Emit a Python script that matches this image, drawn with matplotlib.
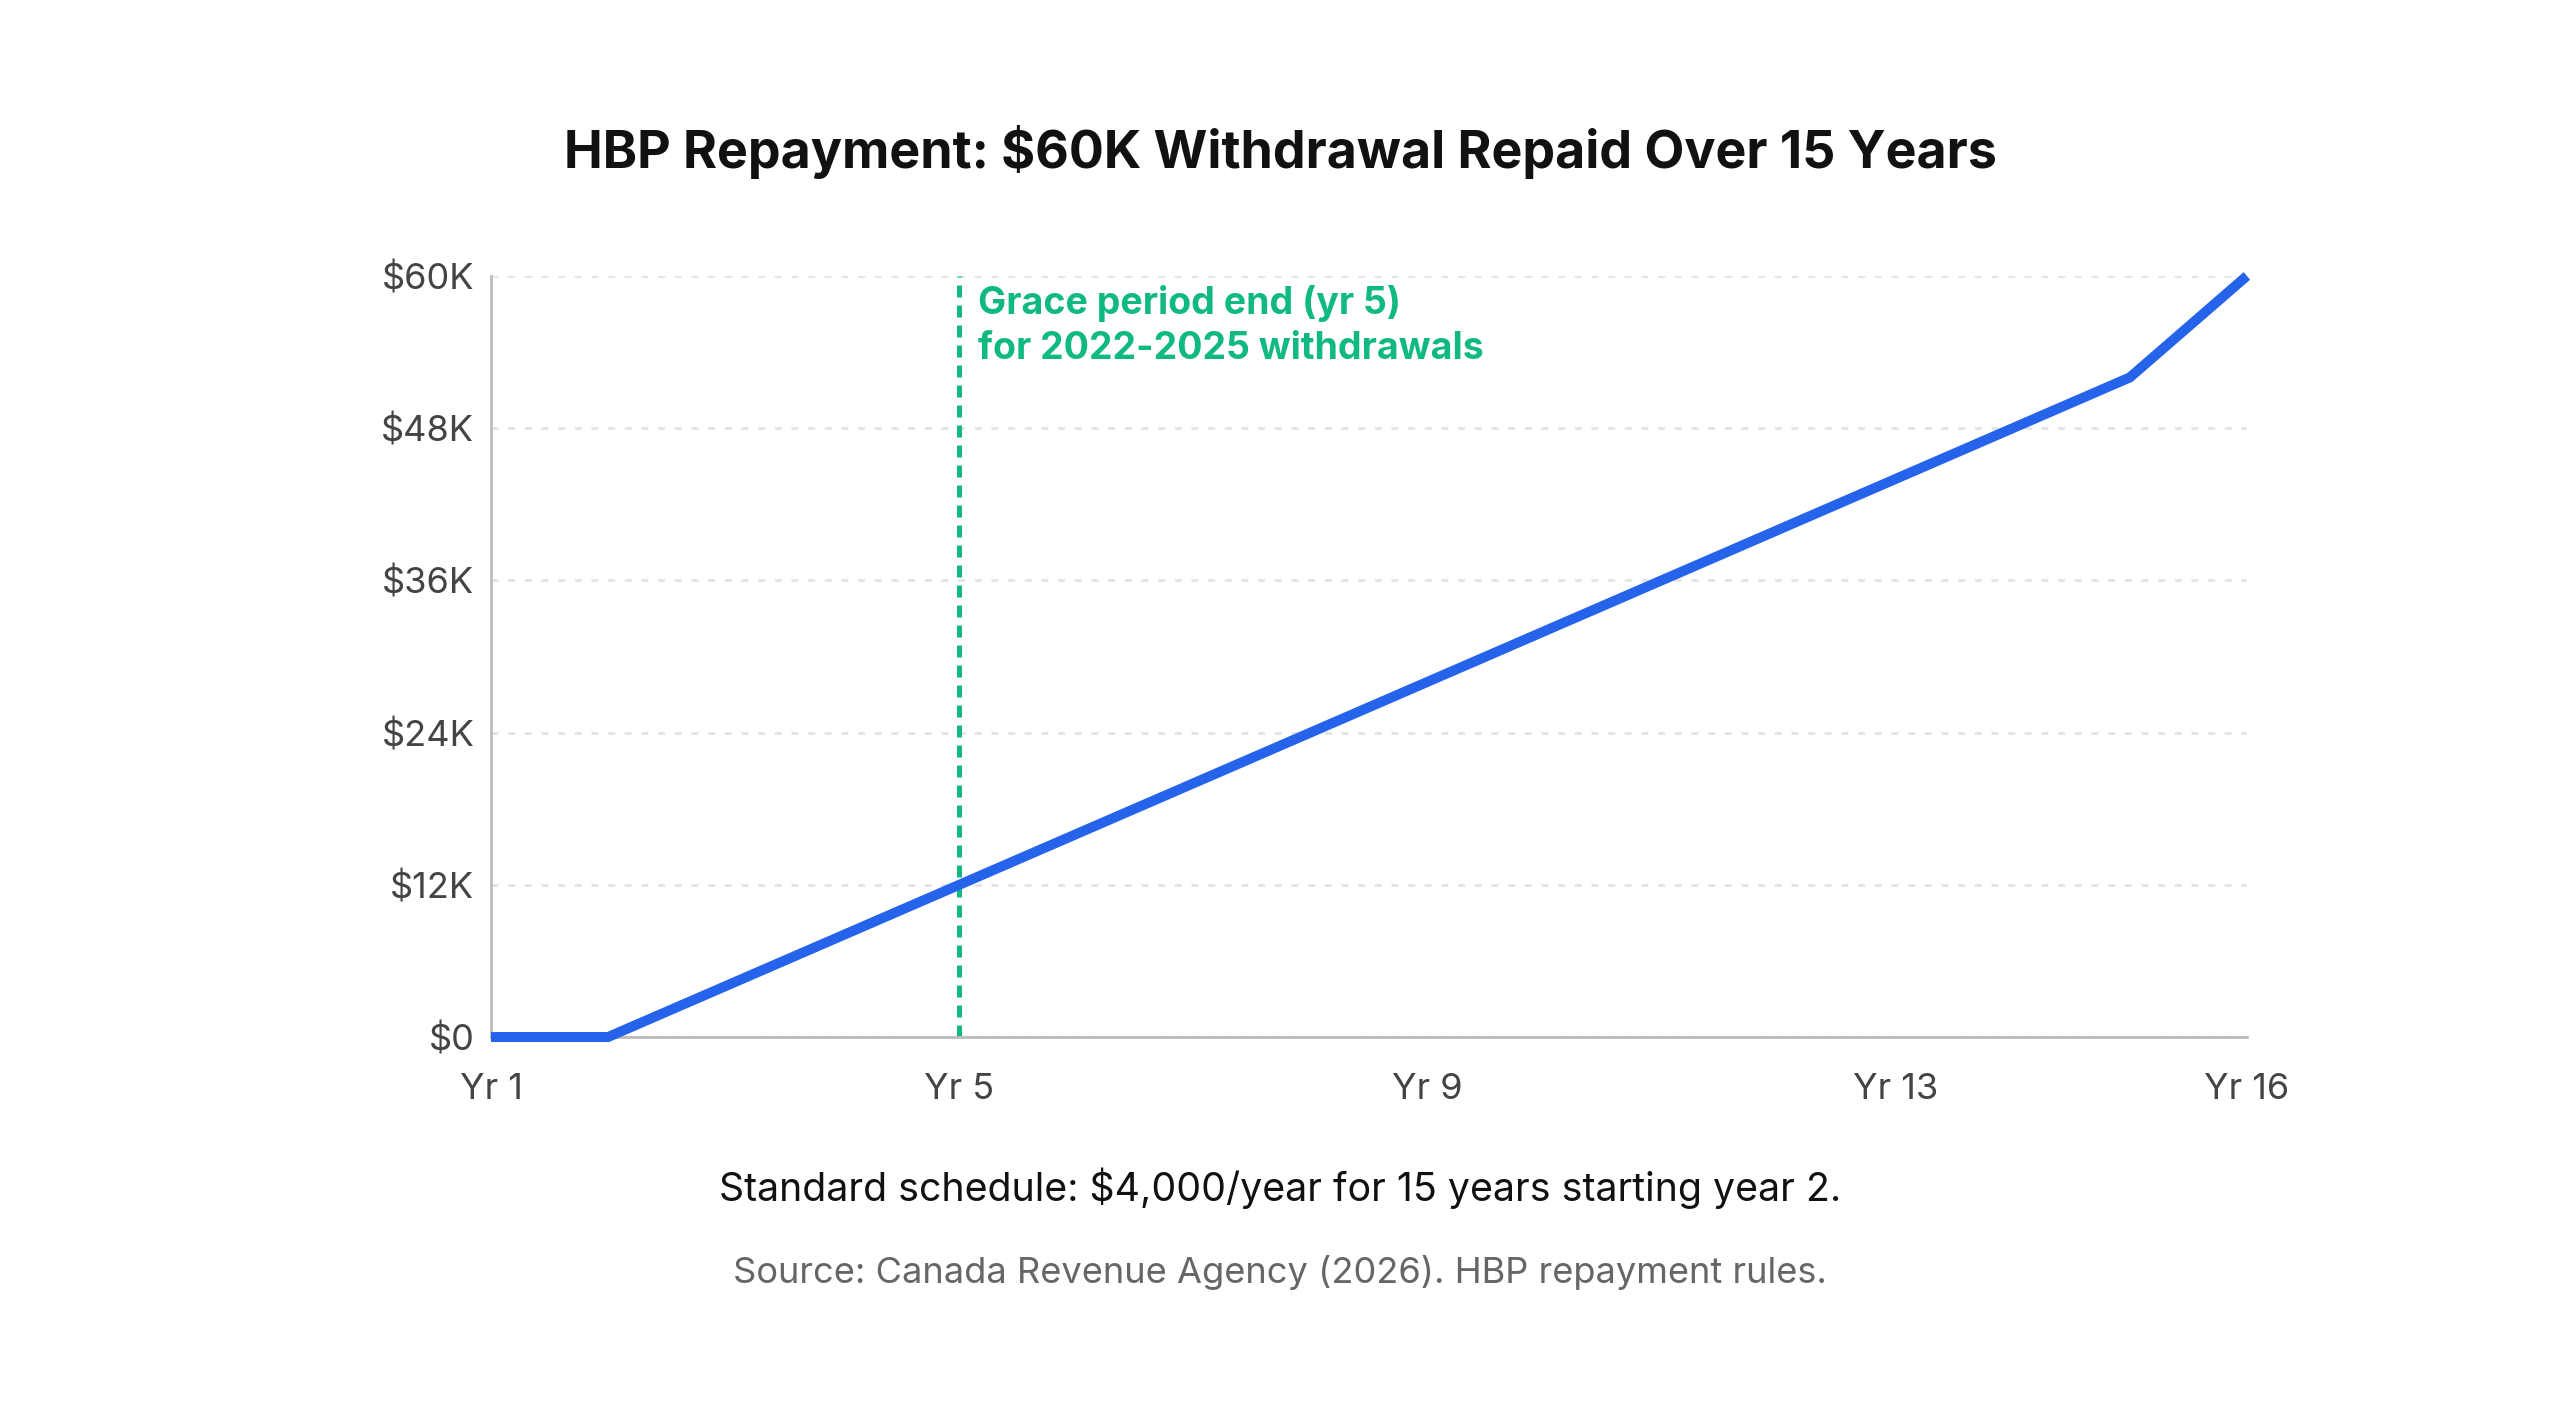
import matplotlib
matplotlib.use("Agg")
import matplotlib.pyplot as plt
from matplotlib.ticker import FixedLocator

years = list(range(1, 17))
balance_k = [0, 0, 4, 8, 12, 16, 20, 24, 28, 32, 36, 40, 44, 48, 52, 60]
x_ticks = [1, 5, 9, 13, 16]
x_tick_labels = ["Yr 1", "Yr 5", "Yr 9", "Yr 13", "Yr 16"]
y_ticks_k = [0, 12, 24, 36, 48, 60]
y_tick_labels = ["$0", "$12K", "$24K", "$36K", "$48K", "$60K"]
grace_year = 5
title = "HBP Repayment: $60K Withdrawal Repaid Over 15 Years"
annotation = "Grace period end (yr 5)\nfor 2022-2025 withdrawals"
subtitle = "Standard schedule: $4,000/year for 15 years starting year 2."
source = "Source: Canada Revenue Agency (2026). HBP repayment rules."

plt.rcParams['font.family'] = ['Inter', 'DejaVu Sans']

fig = plt.figure(figsize=(25.6, 14.05), dpi=100)
ax = fig.add_axes([0.1918, 0.2619, 0.8777 - 0.1918, 0.8036 - 0.2619])

ax.plot(years, [v * 1000 for v in balance_k], color="#2563EB", lw=7.2,
        solid_capstyle="butt", solid_joinstyle="miter", clip_on=False, zorder=3)

ax.vlines(grace_year, 0, 60000, colors="#10B981", lw=3.6,
          linestyles=(0, (2.4, 1.6)), zorder=2)
ax.text(grace_year + 0.16, 59300, annotation, color="#10B981", fontsize=27,
        fontweight="bold", va="top", ha="left", linespacing=1.32)

ax.set_xlim(1, 16)
ax.set_ylim(0, 60000)
ax.xaxis.set_major_locator(FixedLocator(x_ticks))
ax.set_xticklabels(x_tick_labels)
ax.yaxis.set_major_locator(FixedLocator([v * 1000 for v in y_ticks_k]))
ax.set_yticklabels(y_tick_labels)
ax.tick_params(axis="both", length=0, labelsize=26, labelcolor="#444444")
ax.tick_params(axis="x", pad=26)
ax.tick_params(axis="y", pad=12)

ax.grid(axis="y", color="#e3e3e3", lw=2, linestyle=(0, (2.5, 3.5)))
ax.set_axisbelow(True)
for s in ["top", "right"]:
    ax.spines[s].set_visible(False)
for s in ["left", "bottom"]:
    ax.spines[s].set_color("#bbbbbb")
    ax.spines[s].set_linewidth(2)

fig.text(0.5, 1 - 152 / 1405, title, ha="center", va="center", fontsize=37.4,
         fontweight="bold", color="#111111")
fig.text(0.5, 1 - 1188 / 1405, subtitle, ha="center", va="center", fontsize=28.3,
         color="#111111")
fig.text(0.5, 1 - 1272 / 1405, source, ha="center", va="center", fontsize=26.1,
         color="#666666")

fig.savefig("out.png", dpi=100, facecolor="white")
